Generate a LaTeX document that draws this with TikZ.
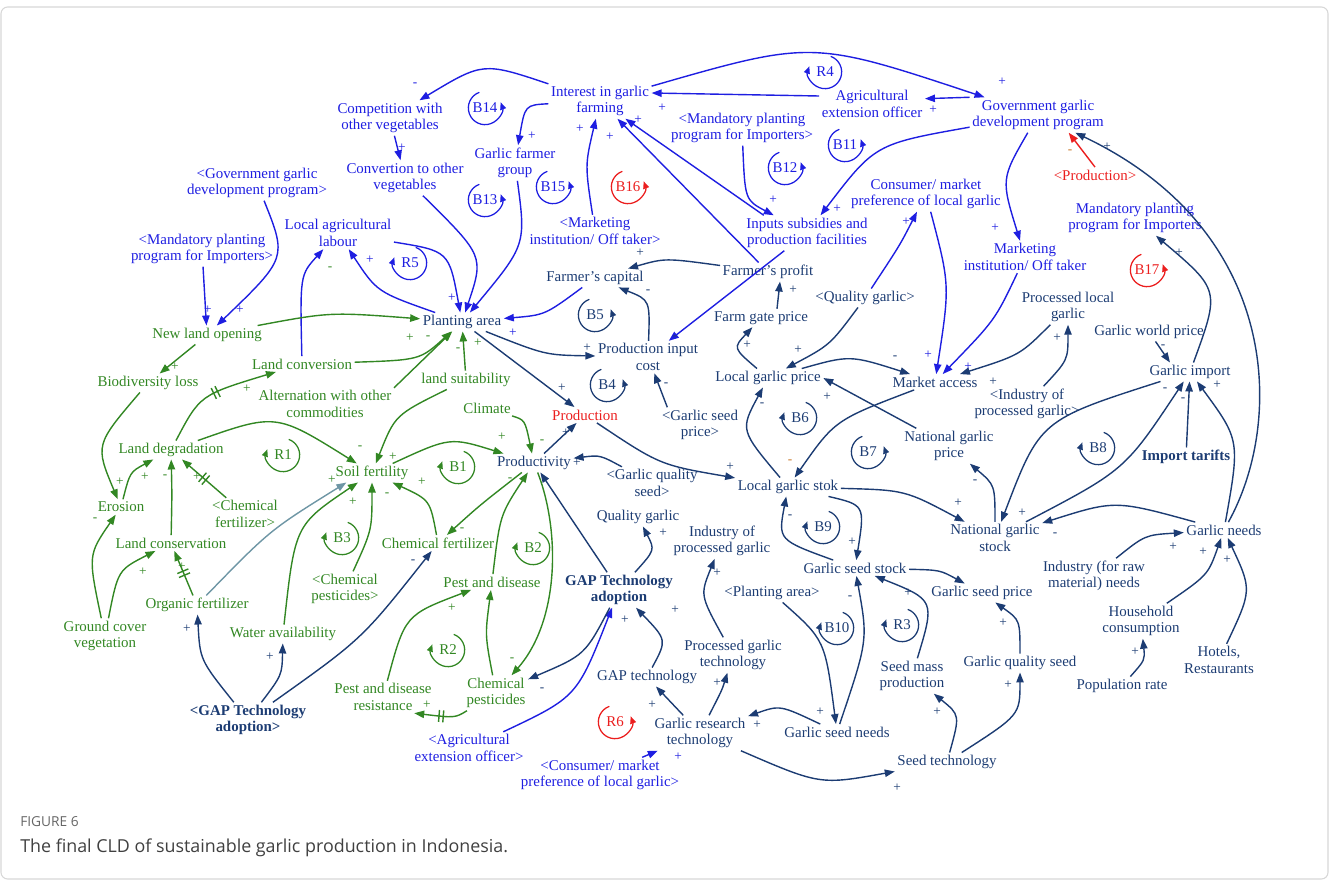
\documentclass[tikz,border=0pt]{standalone}
\usepackage{fontspec}
\setmainfont{Liberation Serif}
\newfontfamily\capfont{Open Sans}
\usetikzlibrary{arrows.meta,decorations.markings}
\definecolor{blueN}{RGB}{30,30,225}
\definecolor{navyN}{RGB}{28,60,115}
\definecolor{greenN}{RGB}{50,135,35}
\definecolor{redN}{RGB}{235,30,30}
\definecolor{tealN}{RGB}{110,150,165}
\definecolor{orngN}{RGB}{200,120,40}
\definecolor{frameN}{RGB}{215,215,215}
\newcommand{\cldfont}{\fontsize{11.2}{12.4}\selectfont}
\newcommand{\polfont}{\fontsize{10}{10}\selectfont}
\tikzset{
  var/.style={align=center, inner sep=0.5pt, outer sep=1.5pt, font=\cldfont},
  bv/.style={var, text=blueN},
  nv/.style={var, text=navyN},
  gv/.style={var, text=greenN},
  rv/.style={var, text=redN},
  bfv/.style={font=\cldfont\bfseries},
  link/.style={line width=1.05pt, -{Triangle[length=7.5pt,width=5.5pt]}},
  lb/.style={link, blueN},
  ln/.style={link, navyN},
  lg/.style={link, greenN},
  lr/.style={link, redN},
  lt/.style={link, tealN},
  sg/.style={inner sep=0pt, font=\polfont},
  lp/.style={inner sep=0pt, font=\cldfont},
  lparc/.style={line width=0.95pt, -{Triangle[length=5.5pt,width=4.5pt]}},
  dlymark/.style={postaction={-, decorate, decoration={markings, mark=at position #1 with {\draw[-] (-1.6pt,-4.5pt) -- (-1.6pt,4.5pt) (1.6pt,-4.5pt) -- (1.6pt,4.5pt);}}}},
  dlymark/.default=0.5
}
\begin{document}
\begin{tikzpicture}[x=0.75pt, y=-0.75pt]
\useasboundingbox (0,0) rectangle (1330,881);
% Rahmen
\draw[frameN, line width=0.8pt, rounded corners=5pt] (1,7) rectangle (1328,879);
% blaue Variablen
\node[bv] (intr) at (600,101) {Interest in garlic\\farming};
\node[bv] (comp) at (390,118) {Competition with\\other vegetables};
\node[bv] (conv) at (405,178) {Convertion to other\\vegetables};
\node[bv] (gfg) at (515,163) {Garlic farmer\\group};
\node[bv] (gov2) at (257,183) {<Government garlic\\development program>};
\node[bv] (mand2) at (202,249) {<Mandatory planting\\program for Importers>};
\node[bv] (labour) at (338,233) {Local agricultural\\labour};
\node[bv] (mkt2) at (595,231) {<Marketing\\institution/ Off taker>};
\node[bv] (ext) at (872,104) {Agricultural\\extension officer};
\node[bv] (gov) at (1038,115) {Government garlic\\development program};
\node[bv] (mand3) at (742,128) {<Mandatory planting\\program for Importers>};
\node[bv] (inp) at (807,233) {Inputs subsidies and\\production facilities};
\node[bv] (cons) at (926,194) {Consumer/ market\\preference of local garlic};
\node[bv] (mkt) at (1025,257) {Marketing\\institution/ Off taker};
\node[bv] (mand) at (1135,218) {Mandatory planting\\program for Importers};
\node[bv] (ext2) at (469,748) {<Agricultural\\extension officer>};
\node[bv] (cons2) at (600,775) {<Consumer/ market\\preference of local garlic>};
% rote Variablen
\node[rv] (prod2) at (1095,175) {<Production>};
\node[rv] (prod) at (585,415) {Production};
% dunkelblaue Variablen
\node[nv] (cap) at (595,278) {Farmer's capital};
\node[nv] (profit) at (768,272) {Farmer's profit};
\node[nv] (qual2) at (865,298) {<Quality garlic>};
\node[nv] (fgp) at (761,318) {Farm gate price};
\node[nv] (pic) at (648,357) {Production input\\cost};
\node[nv] (lgp) at (768,378) {Local garlic price};
\node[nv] (macc) at (935,382) {Market access};
\node[nv] (plg) at (1068,307) {Processed local\\garlic};
\node[nv] (gwp) at (1149,332) {Garlic world price};
\node[nv] (gimp) at (1190,372) {Garlic import};
\node[nv] (ipg2) at (1027,404) {<Industry of\\processed garlic>};
\node[nv] (gsp2) at (700,425) {<Garlic seed\\price>};
\node[nv] (ngp) at (949,446) {National garlic\\price};
\node[nv, bfv] (tarif) at (1186,457) {Import tarifts};
\node[nv] (lgs) at (788,487) {Local garlic stok};
\node[nv] (ngs) at (995,538) {National garlic\\stock};
\node[nv] (gneed) at (1224,530) {Garlic needs};
\node[nv] (pa) at (462,322) {Planting area};
\node[nv] (prodv) at (534,463) {Productivity};
\node[nv] (gqs2) at (652,483) {<Garlic quality\\seed>};
\node[nv] (qual) at (638,517) {Quality garlic};
\node[nv] (ipg) at (722,541) {Industry of\\processed garlic};
\node[nv] (gss) at (855,568) {Garlic seed stock};
\node[nv] (gsp) at (982,593) {Garlic seed price};
\node[nv] (pa2) at (772,593) {<Planting area>};
\node[nv, bfv] (gap) at (619,590) {GAP Technology\\adoption};
\node[nv] (gapt) at (647,677) {GAP technology};
\node[nv] (pgt) at (733,655) {Processed garlic\\technology};
\node[nv] (smp) at (912,676) {Seed mass\\production};
\node[nv] (gqs) at (1020,663) {Garlic quality seed};
\node[nv] (grt) at (700,733) {Garlic research\\technology};
\node[nv] (gsn) at (837,732) {Garlic seed needs};
\node[nv] (stech) at (947,762) {Seed technology};
\node[nv] (ind) at (1094,576) {Industry (for raw\\material) needs};
\node[nv] (hh) at (1141,621) {Household\\consumption};
\node[nv] (pop) at (1122,686) {Population rate};
\node[nv] (hotel) at (1219,660) {Hotels,\\Restaurants};
\node[nv, bfv] (gap2) at (248,720) {<GAP Technology\\adoption>};
% gruene Variablen
\node[gv] (nlo) at (207,335) {New land opening};
\node[gv] (bio) at (148,383) {Biodiversity loss};
\node[gv] (lconv) at (302,364) {Land conversion};
\node[gv] (alt) at (325,404) {Alternation with other\\commodities};
\node[gv] (lsuit) at (466,380) {land suitability};
\node[gv] (clim) at (487,408) {Climate};
\node[gv] (ldeg) at (171,450) {Land degradation};
\node[gv] (soil) at (372,473) {Soil fertility};
\node[gv] (ero) at (121,507) {Erosion};
\node[gv] (cf2) at (245,514) {<Chemical\\fertilizer>};
\node[gv] (lcons) at (171,543) {Land conservation};
\node[gv] (cf) at (438,543) {Chemical fertilizer};
\node[gv] (cp2) at (345,589) {<Chemical\\pesticides>};
\node[gv] (pest) at (492,582) {Pest and disease};
\node[gv] (org) at (197,605) {Organic fertilizer};
\node[gv] (water) at (283,634) {Water availability};
\node[gv] (gcv) at (105,636) {Ground cover\\vegetation};
\node[gv] (pdr) at (383,697) {Pest and disease\\resistance};
\node[gv] (cp) at (496,693) {Chemical\\pesticides};
% Schleifen
\foreach \n/\p/\c in {R4/{825,72}/blueN, R5/{410,263}/blueN, B6/{800,418}/navyN, B8/{1098,448}/navyN,
    B9/{823,527}/navyN, B10/{837,628}/navyN, R3/{902,625}/navyN, R1/{283,455}/greenN,
    B1/{458,467}/greenN, B3/{342,538}/greenN, B2/{533,548}/greenN, R2/{448,650}/greenN} {
  \node[lp, text=\c] (loop\n) at (\p) {\n};
  \draw[lparc, \c] (loop\n) ++(70:12.5pt) arc[start angle=70, end angle=-200, radius=12.5pt];
}
\foreach \n/\p/\c in {B14/{485,108}/blueN, B13/{485,200}/blueN, B15/{553,187}/blueN, B16/{628,187}/redN,
    B12/{785,168}/blueN, B11/{845,145}/blueN, B17/{1147,270}/redN, B5/{595,315}/navyN,
    B4/{607,385}/navyN, B7/{868,452}/navyN, R6/{615,722}/redN} {
  \node[lp, text=\c] (loop\n) at (\p) {\n};
  \draw[lparc, \c] (loop\n) ++(110:12.5pt) arc[start angle=110, end angle=380, radius=12.5pt];
}
% blaue Pfeile
\draw[lb] (intr) .. controls (483,62) .. (comp);
\draw[lb] (comp) -- (conv);
\draw[lb] (conv) .. controls (484,256) .. (pa);
\draw[lb] (gfg) .. controls (526,245) .. (pa);
\draw[lb] (labour) .. controls (449,251) .. (pa);
\draw[lb] (pa) .. controls (377,292) .. (labour);
\draw[lb] (intr) .. controls (525,105) .. (gfg);
\draw[lb] (mkt2) .. controls (585,165) .. (intr);
\draw[lb] ([xshift=15pt]inp.north west) -- (intr);
\draw[lb] (profit) -- (intr);
\draw[lb] ([yshift=6pt]ext.west) -- ([yshift=6pt]intr.east);
\draw[lb] (intr) .. controls (812,40) .. (gov);
\draw[lb] (gov.north west) -- ([yshift=4pt]ext.east);
\draw[lb] (gov) .. controls (875,144) .. (inp);
\draw[lb] (mand3) .. controls (745,200) .. (inp);
\draw[lb] (gov) .. controls (1001,179) .. (mkt);
\draw[lr] (prod2.north) -- (gov.-30);
\draw[lb] (mkt) .. controls (995,320) .. (macc);
\draw[lb] (cons) .. controls (950,285) .. (macc);
\draw[lb] (qual2) .. controls (900,245) .. (cons);
\draw[lb] (cons2) -- (grt);
\draw[lb] (ext2) .. controls (577,697) .. (gap);
\draw[lb] (gov2) .. controls (287,258) .. (nlo);
\draw[lb] (mand2) -- (nlo);
\draw[lb] (lconv) .. controls (300,275) .. (labour);
\draw[lb] (cap) .. controls (545,315) .. (pa);
\draw[lb] (inp) -- (pic);
% dunkelblaue Pfeile
\draw[ln] (pic) .. controls (650,300) .. (cap);
\draw[ln] (profit) .. controls (665,258) .. (cap);
\draw[ln] (pa) .. controls (545,355) .. (pic);
\draw[ln] (pa) -- (prod);
\draw[ln] ([xshift=6pt]gsp2.north west) -- (pic);
\draw[ln] (prodv) -- (prod);
\draw[ln] (gqs2) .. controls (600,455) .. (prodv);
\draw[ln] (prod) .. controls (660,465) .. (lgs);
\draw[ln] (lgp) .. controls (733,348) .. (fgp);
\draw[ln] ([xshift=12pt]fgp.north) -- ([xshift=9pt]profit.south);
\draw[ln] (qual2) .. controls (830,345) .. (lgp);
\draw[ln] (lgp) .. controls (850,355) .. (macc);
\draw[ln] (ngp) -- (lgp.east);
\draw[ln] (macc) .. controls (835,420) .. (lgs);
\draw[ln] (lgs) .. controls (740,430) .. (lgp);
\draw[ln] (ngs) .. controls (995,485) .. (ngp);
\draw[ln] (lgs) .. controls (905,490) .. (ngs);
\draw[ln] (lgs) .. controls (865,505) .. (gss);
\draw[ln] (gss) .. controls (778,540) .. (lgs);
\draw[ln] (gwp) -- ([xshift=-15pt]gimp.north);
\draw[ln] (gimp) .. controls (1220,290) .. (mand);
\draw[ln] (ipg2) .. controls (1068,360) .. (plg);
\draw[ln] (plg) .. controls (1020,355) .. (macc);
\draw[ln] (gimp) .. controls (1040,420) .. (ngs);
\draw[ln] (ngs) .. controls (1125,470) .. (gimp);
\draw[ln] (tarif) -- (gimp);
\draw[ln] (gneed) .. controls (1240,440) .. (gimp);
\draw[ln] (gneed) .. controls (1285,420) and (1280,230) .. (gov);
\draw[ln] (gneed) .. controls (1115,500) .. (ngs);
\draw[ln] (ind) .. controls (1145,535) .. (gneed);
\draw[ln] (hh) .. controls (1208,575) .. (gneed);
\draw[ln] (hotel) .. controls (1252,590) .. (gneed);
\draw[ln] (pop) .. controls (1145,660) .. (hh);
\draw[ln] (gap) -- (prodv);
\draw[ln] (gap) .. controls (655,550) .. (qual);
\draw[ln] (gap) .. controls (585,655) .. (cp);
\draw[ln] (gapt) .. controls (667,640) .. (gap);
\draw[ln] (grt) -- (gapt);
\draw[ln] (grt) .. controls (722,690) .. (pgt);
\draw[ln] (pgt) .. controls (700,595) .. (ipg);
\draw[ln] (gsn) .. controls (780,705) .. (grt);
\draw[ln] (pa2) .. controls (825,640) .. (gsn);
\draw[ln] (gsn) .. controls (868,640) .. (gss);
\draw[ln] (smp) .. controls (935,600) .. (gss);
\draw[ln] (gss) .. controls (940,570) .. (gsp);
\draw[ln] (stech) .. controls (960,715) .. (smp);
\draw[ln] (grt) .. controls (820,785) .. (stech);
\draw[ln] (stech) .. controls (1020,715) .. (gqs);
\draw[ln] (gqs) .. controls (1020,620) .. (gsp);
\draw[ln] (gap2) .. controls (200,660) .. (org);
\draw[ln] (gap2) .. controls (282,675) .. (water);
\draw[ln] (gap2) .. controls (362,639) .. (cf);
\draw[lt] (org) .. controls (270,530) .. ([xshift=10pt]soil.south west);
% gruene Pfeile
\draw[lg] (nlo) .. controls (330,312) .. (pa);
\draw[lg] (nlo) -- (bio);
\draw[lg] (lconv) .. controls (420,360) .. (pa);
\draw[lg] (alt.north east) -- (pa);
\draw[lg] (lsuit) -- (pa);
\draw[lg] (lsuit) .. controls (395,415) .. (soil);
\draw[lg, dlymark] (ldeg) .. controls (200,395) .. (lconv);
\draw[lg] (ldeg) .. controls (276,413) .. (soil);
\draw[lg] (soil) .. controls (450,437) .. (prodv);
\draw[lg] (bio) .. controls (95,445) .. (ero);
\draw[lg] (ero) .. controls (130,472) .. (ldeg);
\draw[lg] (lcons) .. controls (172,495) .. (ldeg);
\draw[lg, dlymark] (cf2) -- (ldeg);
\draw[lg] (gcv) .. controls (118,570) .. (lcons);
\draw[lg] (gcv) .. controls (88,555) .. (ero);
\draw[lg, dlymark] (org) -- (lcons);
\draw[lg] (cf) .. controls (430,500) .. (soil);
\draw[lg] (cp2) .. controls (372,530) .. (soil);
\draw[lg] (water) .. controls (295,525) .. (soil);
\draw[lg] (clim) .. controls (525,420) .. (prodv);
\draw[lg] (prodv) .. controls (480,505) .. (cf);
\draw[lg] (pest) .. controls (500,515) .. (prodv);
\draw[lg] (prodv) .. controls (560,530) and (560,620) .. (cp);
\draw[lg] (cp) .. controls (485,635) .. (pest);
\draw[lg] (pdr) .. controls (405,615) .. (pest);
\draw[lg, dlymark] (cp) .. controls (455,718) .. ([xshift=-15pt]pdr.south east);
% Polaritaeten
\foreach \x/\y/\s [count=\i] in {415/85/-, 402/148/+, 532/136/+, 580/129/+, 610/137/+, 638/120/+,
    662/108/+, 1002/82/+, 933/110/+, 773/200/+, 837/209/+, 906/222/+, 995/228/+, 928/355/+,
    968/367/+, 208/310/+, 240/310/+, 452/298/+, 370/260/+, 513/333/+, 678/757/+}
  \node[sg, text=blueN] (pb\i) at (\x,\y) {\s};
\foreach \x/\y/\s [count=\i] in {1107/147/+, 1179/253/+, 648/292/-, 640/253/+, 793/290/+, 747/345/+,
    798/350/+, 895/358/-, 993/382/+, 827/397/+, 762/405/-, 975/482/-, 730/467/+, 958/503/+,
    852/542/+, 790/517/-, 1057/338/+, 1163/347/-, 1165/390/-, 1183/400/-, 1217/385/+, 1022/513/+,
    1055/535/-, 1173/547/+, 1203/552/+, 1227/560/+, 1135/652/+, 587/348/+, 562/388/+, 666/385/-,
    566/433/+, 577/463/+, 663/533/+, 542/690/-, 675/610/+, 652/705/+, 717/573/+, 717/683/+,
    757/725/+, 820/712/+, 850/598/-, 908/593/+, 937/712/+, 897/788/+, 1008/685/+, 1003/623/+,
    187/629/+, 270/657/+, 413/562/-, 675/338/-, 625/620/+}
  \node[sg, text=navyN] (pn\i) at (\x,\y) {\s};
\foreach \x/\y/\s [count=\i] in {1070/152/-, 790/462/-}
  \node[sg, text=orngN] (po\i) at (\x,\y) {\s};
\foreach \x/\y/\s [count=\i] in {410/338/+, 428/338/-, 458/350/-, 478/343/+, 175/367/+, 247/389/+,
    360/448/-, 120/482/+, 145/477/+, 165/477/-, 197/477/+, 353/502/+, 332/480/+, 393/457/+,
    502/437/+, 542/442/-, 422/482/+, 387/495/-, 510/480/-, 462/530/-, 95/520/-, 143/572/+,
    182/567/+, 452/608/+, 512/660/-, 427/705/+, 330/269/-}
  \node[sg, text=greenN] (pg\i) at (\x,\y) {\s};
% Beschriftung
\node[anchor=west, inner sep=0pt, font=\capfont\fontsize{10.3}{12}\selectfont, text=black!60] (fignum) at (20,822) {FIGURE 6};
\node[anchor=west, inner sep=0pt, font=\capfont\fontsize{13.4}{15}\selectfont, text=black!75] (figcap) at (20,848) {The final CLD of sustainable garlic production in Indonesia.};
\end{tikzpicture}
\end{document}
